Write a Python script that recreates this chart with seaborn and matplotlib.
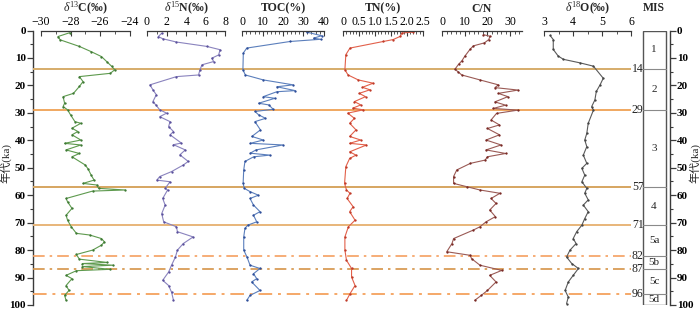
import numpy as np
import pandas as pd
import seaborn as sns
import matplotlib
matplotlib.use("Agg")
import matplotlib.pyplot as plt
from matplotlib.patches import Rectangle
from matplotlib.ticker import MultipleLocator

sns.set_theme(style="white")
plt.rcParams['font.family'] = ['Liberation Serif', 'Noto Sans CJK SC', 'DejaVu Sans']
plt.rcParams['mathtext.fontset'] = 'custom'
plt.rcParams['mathtext.rm'] = 'Liberation Serif'
plt.rcParams['mathtext.it'] = 'Liberation Serif:italic'
plt.rcParams['mathtext.bf'] = 'Liberation Serif:bold'

# ---------------- data ----------------
c13_age = [0.8, 2.2, 3.4, 5.8, 7.7, 9.5, 11.3, 13.1, 14.3, 15.6, 16.8, 18.6, 20.4, 22.9, 24.1,
           26.5, 27.7, 28.9, 30.7, 33.2, 33.8, 35.6, 36.8, 38.0, 39.9, 41.1, 41.7, 43.5, 44.8,
           46.0, 49.0, 50.5, 52.7, 54.5, 55.7, 56.3, 57.5, 58.1, 58.5, 61.2, 62.4, 64.8, 67.3,
           69.1, 71.5, 73.9, 74.5, 75.8, 77.0, 78.2, 80.0, 81.6, 83.3, 84.5, 84.9, 85.5, 86.0,
           87.0, 87.5, 89.2, 90.4, 92.9, 94.7, 96.5, 98.3]
c13_val = [-28.05, -28.85, -28.7, -27.4, -26.6, -25.9, -25.55, -25.2, -25.0, -25.3, -27.4, -27.15,
           -27.4, -27.8, -28.5, -28.4, -28.5, -28.2, -28.0, -27.7, -27.3, -27.9, -27.5, -27.9,
           -27.3, -28.4, -27.3, -28.3, -27.4, -27.9, -27.0, -26.8, -26.6, -26.4, -27.15, -26.2,
           -26.1, -24.3, -26.5, -28.3, -28.2, -27.9, -28.3, -28.2, -27.95, -27.6, -26.7, -25.9,
           -25.7, -25.9, -26.5, -27.6, -27.4, -25.5, -27.2, -25.1, -27.2, -25.3, -27.6, -28.3,
           -27.9, -28.3, -28.1, -28.4, -28.3]

n15_age = [1.0, 2.2, 3.0, 4.2, 5.8, 7.0, 8.9, 10.1, 11.3, 12.5, 14.3, 16.2, 16.8, 19.8, 21.6,
           23.4, 25.9, 27.1, 28.9, 30.1, 31.4, 33.2, 35.0, 36.8, 38.0, 41.0, 41.6, 43.5, 45.3,
           47.7, 49.0, 51.4, 53.2, 54.5, 55.1, 57.5, 58.1, 61.2, 63.6, 66.7, 69.7, 71.5, 73.3,
           75.2, 77.6, 80.0, 82.5, 85.5, 88.0, 91.0, 92.9, 95.3, 98.3]
n15_val = [1.5, 1.15, 1.6, 3.0, 6.1, 7.45, 7.3, 6.6, 6.8, 5.6, 5.4, 5.25, 3.0, 0.3, 0.6,
           0.95, 0.6, 0.9, 1.3, 2.0, 1.3, 2.35, 2.2, 2.7, 2.35, 3.5, 2.7, 3.9, 3.35,
           4.2, 3.7, 2.5, 1.3, 1.0, 2.35, 1.85, 2.1, 1.6, 1.85, 1.5, 1.7, 3.0, 3.1,
           4.7, 3.7, 3.1, 2.9, 2.5, 2.2, 1.6, 2.2, 2.5, 2.7]

toc_age = [0.6, 1.9, 2.8, 3.2, 4.0, 6.4, 8.2, 14.3, 16.2, 18.0, 19.8, 20.5, 21.9, 22.3, 24.1,
           24.7, 26.5, 27.1, 28.7, 29.5, 30.7, 32.0, 33.2, 36.2, 38.6, 39.9, 41.1, 41.7, 43.5,
           44.7, 45.4, 46.0, 47.7, 50.8, 55.7, 57.5, 58.7, 60.0, 61.2, 63.6, 66.0, 67.3, 69.7,
           70.9, 72.1, 75.2, 80.0, 82.5, 85.5, 86.7, 88.6, 90.4, 91.6, 94.7, 96.5, 98.3]
toc_val = [31.7, 39.0, 35.0, 38.5, 23.5, 2.2, 0.5, 0.3, 1.5, 10.3, 25.0, 17.0, 26.0, 17.0, 10.3,
           16.0, 8.0, 13.0, 15.2, 6.2, 8.0, 11.4, 6.2, 8.9, 4.7, 10.3, 3.9, 20.0, 6.7,
           3.9, 13.6, 5.6, 1.3, 0.7, 0.4, 1.0, 3.8, 7.9, 3.8, 5.5, 8.7, 5.5, 7.1,
           2.7, 1.3, 0.7, 0.7, 2.3, 3.8, 8.7, 5.5, 7.1, 4.6, 8.7, 3.8, 2.2]

tn_age = [0.6, 0.9, 2.1, 3.3, 4.0, 6.4, 8.8, 14.3, 16.2, 18.0, 19.2, 20.7, 21.6, 22.9, 24.1,
          25.9, 27.1, 28.3, 28.9, 30.1, 32.0, 33.8, 36.2, 38.6, 39.9, 41.1, 41.7, 44.2, 45.4,
          46.6, 49.6, 55.7, 58.1, 59.3, 61.2, 64.2, 66.0, 69.1, 71.5, 75.2, 80.0, 83.7, 86.7,
          89.8, 92.9, 95.9, 98.3]
tn_val = [2.2, 1.84, 1.8, 1.57, 1.26, 0.21, 0.08, 0.05, 0.15, 0.47, 0.94, 0.6, 0.84, 0.5, 0.7,
          0.35, 0.55, 0.3, 0.63, 0.14, 0.35, 0.2, 0.4, 0.2, 0.55, 0.2, 0.73, 0.2, 0.4,
          0.2, 0.08, 0.04, 0.1, 0.21, 0.12, 0.31, 0.2, 0.37, 0.16, 0.05, 0.05, 0.1, 0.26,
          0.26, 0.37, 0.21, 0.1]

cn_age = [1.5, 2.1, 3.3, 4.5, 5.6, 6.8, 9.3, 11.1, 12.3, 14.1, 15.0, 16.2, 18.0, 19.8, 20.8,
          21.7, 22.9, 24.1, 26.0, 27.2, 28.4, 29.0, 30.2, 32.6, 34.4, 35.7, 38.0, 39.9, 41.7,
          43.5, 44.8, 46.0, 47.2, 48.4, 50.8, 53.2, 55.7, 56.9, 58.1, 59.3, 61.2, 63.0, 65.4,
          67.8, 69.7, 71.5, 72.7, 75.8, 77.6, 80.6, 81.9, 83.1, 85.5, 87.4, 89.2, 91.6, 94.7,
          96.5, 98.3]
cn_val = [18.2, 21.1, 20.6, 18.7, 13.8, 12.4, 10.1, 8.7, 7.3, 5.7, 7.0, 8.7, 16.7, 24.8, 23.3,
          33.5, 24.8, 29.0, 23.3, 28.0, 22.5, 33.5, 24.0, 21.6, 25.3, 20.0, 25.3, 19.4, 26.0,
          19.4, 28.0, 20.0, 19.0, 12.5, 6.5, 5.1, 5.1, 10.9, 16.7, 25.5, 21.6, 23.8, 21.0,
          23.5, 19.4, 16.7, 13.8, 5.1, 4.4, 2.1, 12.4, 13.0, 16.7, 26.3, 21.0, 23.8, 20.0,
          17.3, 14.4]

o18_age = [1.8, 3.3, 6.9, 9.3, 10.5, 11.8, 13.0, 17.4, 19.8, 22.2, 25.3, 27.7, 29.0, 33.8,
           37.5, 39.9, 42.3, 45.4, 48.4, 50.2, 52.7, 55.1, 57.5, 59.3, 61.7, 63.6, 66.0, 68.5,
           70.9, 73.3, 75.8, 77.6, 80.0, 82.5, 84.9, 86.7, 89.2, 91.6, 94.7, 97.1, 99.5]
o18_val = [3.2, 3.31, 3.31, 3.48, 3.66, 4.24, 4.7, 5.04, 4.93, 4.8, 4.75, 4.64, 4.7, 4.52,
           4.47, 4.4, 4.47, 4.35, 4.47, 4.3, 4.4, 4.3, 4.47, 4.4, 4.52, 4.35, 4.52, 4.4,
           4.3, 4.12, 4.0, 4.1, 3.89, 3.77, 3.95, 4.18, 4.0, 3.83, 3.72, 3.83, 3.77]

mis_bounds = [14, 29, 57, 71, 82, 87, 96]
mis_labels = ["1", "2", "3", "4", "5a", "5b", "5c", "5d"]
mis_label_pos = [7, 21.5, 43, 64, 76.5, 84.5, 91.5, 98]

# ---------------- layout ----------------
W, H = 700, 312
Y0, Y1 = 30.5, 305.0
fig = plt.figure(figsize=(7.0, 3.12), dpi=100)

def rect(x0, x1):
    return [x0 / W, 1 - Y1 / H, (x1 - x0) / W, (Y1 - Y0) / H]

axis_col = '#3a3a3a'

# background axes (age scales, horizontal boundary lines, MIS column)
bg = fig.add_axes(rect(33, 669.5))
bg.set_facecolor('none')
bg.set_xlim(33, 669.5)
bg.set_ylim(100, 0)
for s in ['top', 'bottom']:
    bg.spines[s].set_visible(False)
for s in ['left', 'right']:
    bg.spines[s].set_color(axis_col)
    bg.spines[s].set_linewidth(1.0)
bg.set_xticks([])
bg.yaxis.set_major_locator(MultipleLocator(10))
bg.yaxis.set_minor_locator(MultipleLocator(5))
bg.tick_params(axis='y', which='both', direction='out', left=True, right=True,
               labelleft=True, labelright=True, colors=axis_col, labelcolor='black',
               labelsize=8, pad=1.2)
bg.tick_params(axis='y', which='major', length=4, width=0.9)
bg.tick_params(axis='y', which='minor', length=2.5, width=0.8)
for lab in bg.get_yticklabels():
    lab.set_fontweight('bold')

dashdot = (0, (7, 3, 1.5, 3))
line_styles = {
    14: dict(color='#D6AC6A', ls='-', lw=1.4),
    29: dict(color='#EE9A45', ls='-', lw=1.2),
    57: dict(color='#D6A560', ls='-', lw=1.4),
    71: dict(color='#E8B679', ls='-', lw=1.4),
    82: dict(color='#F5A060', ls=dashdot, lw=1.2),
    87: dict(color='#D59448', ls=dashdot, lw=1.2),
    96: dict(color='#F5A868', ls=dashdot, lw=1.4),
}
for b in mis_bounds:
    st = line_styles[b]
    bg.plot([33, 631], [b, b], color=st['color'], ls=st['ls'], lw=st['lw'], zorder=3,
            solid_capstyle='butt')
    bg.text(632, b, str(b), ha='left', va='center', fontsize=8.5, color='#222222', zorder=4)

# MIS column
bg.add_patch(Rectangle((642.5, 0), 23, 100, fill=False, ec='#555555', lw=1.0, zorder=4))
for b in mis_bounds:
    bg.plot([642.5, 665.5], [b, b], color='#8a8a8a', lw=0.8, zorder=4)
for lab, p in zip(mis_labels, mis_label_pos):
    bg.text(654, p, lab, ha='center', va='center', fontsize=8, zorder=5)
bg.text(654, -8.3, "MIS", ha='center', va='center', fontsize=8.5, fontweight='bold', clip_on=False)

fig.text(6 / W, 1 - 163 / H, "年代(ka)", rotation=90, ha='center', va='center', fontsize=8)
fig.text(695 / W, 1 - 163 / H, "年代(ka)", rotation=90, ha='center', va='center', fontsize=8)

# data panels
panels = [
    dict(x=(41, 129.5), lim=(-30, -24), major=2, minor=1, title=r"$\delta^{13}$C(‰)",
         age=c13_age, val=c13_val, color='#5E9A4E', mcolor='#3F7A35', fmt=None),
    dict(x=(147, 225.5), lim=(0, 8), major=2, minor=1, title=r"$\delta^{15}$N(‰)",
         age=n15_age, val=n15_val, color='#8A83BE', mcolor='#5A509C', fmt=None),
    dict(x=(242.3, 323.7), lim=(0, 40), major=10, minor=2, title="TOC(%)",
         age=toc_age, val=toc_val, color='#5B7FBC', mcolor='#2F4F9A', fmt=None),
    dict(x=(343.3, 422.7), lim=(0, 2.5), major=0.5, minor=0.1, title="TN(%)",
         age=tn_age, val=tn_val, color='#E2604A', mcolor='#C03A28', fmt='tn'),
    dict(x=(442, 521.5), lim=(0, 35), major=10, minor=2, title="C/N",
         age=cn_age, val=cn_val, color='#9A5A55', mcolor='#7A2A25', fmt=None),
    dict(x=(544.3, 631), lim=(3, 6), major=1, minor=0.5, title=r"$\delta^{18}$O(‰)",
         age=o18_age, val=o18_val, color='#5A5A5A', mcolor='#444444', fmt=None),
]

for p in panels:
    ax = fig.add_axes(rect(*p['x']))
    ax.set_facecolor('none')
    df = pd.DataFrame({'age': p['age'], 'val': p['val']})
    sns.lineplot(data=df, x='val', y='age', orient='y', sort=False, estimator=None, ax=ax,
                 color=p['color'], lw=0.8, marker='o', markersize=0.9,
                 markerfacecolor=p['mcolor'], markeredgecolor=p['mcolor'], zorder=2)
    ax.set_xlim(*p['lim'])
    ax.set_ylim(100, 0)
    for s in ['left', 'right', 'bottom']:
        ax.spines[s].set_visible(False)
    ax.spines['top'].set_color(axis_col)
    ax.spines['top'].set_linewidth(0.9)
    ax.set_yticks([])
    ax.set_ylabel('')
    ax.xaxis.tick_top()
    ax.xaxis.set_label_position('top')
    ax.xaxis.set_major_locator(MultipleLocator(p['major']))
    ax.xaxis.set_minor_locator(MultipleLocator(p['minor']))
    ax.tick_params(axis='x', which='both', direction='in', top=True, bottom=False,
                   colors=axis_col, labelcolor='black', labelsize=8.5, pad=2)
    ax.tick_params(axis='x', which='major', length=3.5, width=0.8)
    ax.tick_params(axis='x', which='minor', length=2, width=0.6)
    ticks = np.arange(p['lim'][0], p['lim'][1] + 1e-9, p['major'])
    ax.set_xticks(ticks)
    if p['fmt'] == 'tn':
        labels = ['0'] + [f"{t:.1f}" for t in ticks[1:]]
    else:
        labels = [f"{t:g}".replace('-', '\u2212') for t in ticks]
    ax.set_xticklabels(labels)
    ax.set_xlim(*p['lim'])
    ax.set_xlabel(p['title'], fontsize=8.5, fontweight='bold', labelpad=3)
    ax.grid(False)

fig.savefig("out.png", dpi=100)
